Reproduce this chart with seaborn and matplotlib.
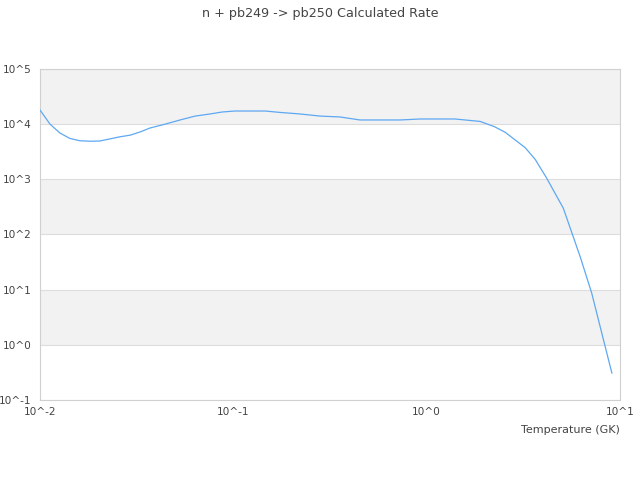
import numpy as np
import pandas as pd
import matplotlib
matplotlib.use("Agg")
import matplotlib.pyplot as plt
import seaborn as sns
from matplotlib.ticker import FixedLocator, FuncFormatter, NullLocator

# rate vs temperature
temperature = [0.01, 0.01127, 0.01268, 0.01429, 0.0161, 0.01816, 0.0204, 0.023,
               0.0259, 0.0292, 0.0329, 0.037, 0.0444, 0.053, 0.0634, 0.0759,
               0.0875, 0.102, 0.146, 0.175, 0.221, 0.281, 0.356, 0.452, 0.728,
               0.925, 1.40, 1.89, 2.24, 2.55, 3.23, 3.64, 4.18, 5.09, 6.22,
               7.14, 8.05, 9.08]
rate = [1.8e4, 1.0e4, 6.9e3, 5.5e3, 5.0e3, 4.9e3, 4.95e3, 5.4e3,
        5.9e3, 6.3e3, 7.2e3, 8.5e3, 1.0e4, 1.19e4, 1.4e4, 1.53e4,
        1.66e4, 1.73e4, 1.73e4, 1.63e4, 1.53e4, 1.4e4, 1.35e4, 1.19e4, 1.19e4,
        1.24e4, 1.24e4, 1.12e4, 9.0e3, 7.1e3, 3.75e3, 2.3e3, 1.04e3, 299, 39.6,
        8.6, 1.62, 0.305]

x_decades = [-2, -1, 0, 1]
y_decades = [-1, 0, 1, 2, 3, 4, 5]

title = "n + pb249 -> pb250 Calculated Rate"
xlabel = "Temperature (GK)"

df = pd.DataFrame({"T": temperature, "rate": rate})

sns.set_style("white")
plt.rcParams["font.family"] = ["DejaVu Sans"]
text_color = "#444444"

fig = plt.figure(figsize=(6.4, 4.8), dpi=100)
ax = fig.add_axes([0.0625, 0.1667, 0.9063, 0.6896])

# alternating horizontal bands, gray on the upper decade of each pair
for lo in y_decades[:-1]:
    if (y_decades[-1] - lo) % 2 == 1:
        ax.axhspan(10.0 ** lo, 10.0 ** (lo + 1), color="#f2f2f2", zorder=0, lw=0)
for d in y_decades:
    ax.axhline(10.0 ** d, color="#dddddd", lw=0.8, zorder=1)

sns.lineplot(data=df, x="T", y="rate", ax=ax, color="#5ea8f2", lw=0.9, zorder=3)

ax.set_xscale("log")
ax.set_yscale("log")
ax.set_xlim(10.0 ** x_decades[0], 10.0 ** x_decades[-1])
ax.set_ylim(10.0 ** y_decades[0], 10.0 ** y_decades[-1])

fmt = FuncFormatter(lambda v, p: "10^%d" % round(np.log10(v)))
ax.xaxis.set_major_locator(FixedLocator([10.0 ** d for d in x_decades]))
ax.yaxis.set_major_locator(FixedLocator([10.0 ** d for d in y_decades]))
ax.xaxis.set_major_formatter(fmt)
ax.yaxis.set_major_formatter(fmt)
ax.xaxis.set_minor_locator(NullLocator())
ax.yaxis.set_minor_locator(NullLocator())
ax.tick_params(axis="both", length=0, labelsize=7.6, colors=text_color)
ax.tick_params(axis="x", pad=5)
ax.tick_params(axis="y", pad=6)

for s in ax.spines.values():
    s.set_color("#d0d0d0")
    s.set_linewidth(0.8)

ax.set_xlabel(xlabel, fontsize=8, color=text_color, loc="right", labelpad=6)
ax.set_ylabel("")
fig.suptitle(title, fontsize=9.2, color=text_color, y=0.985)

fig.savefig("out.png", dpi=100)
